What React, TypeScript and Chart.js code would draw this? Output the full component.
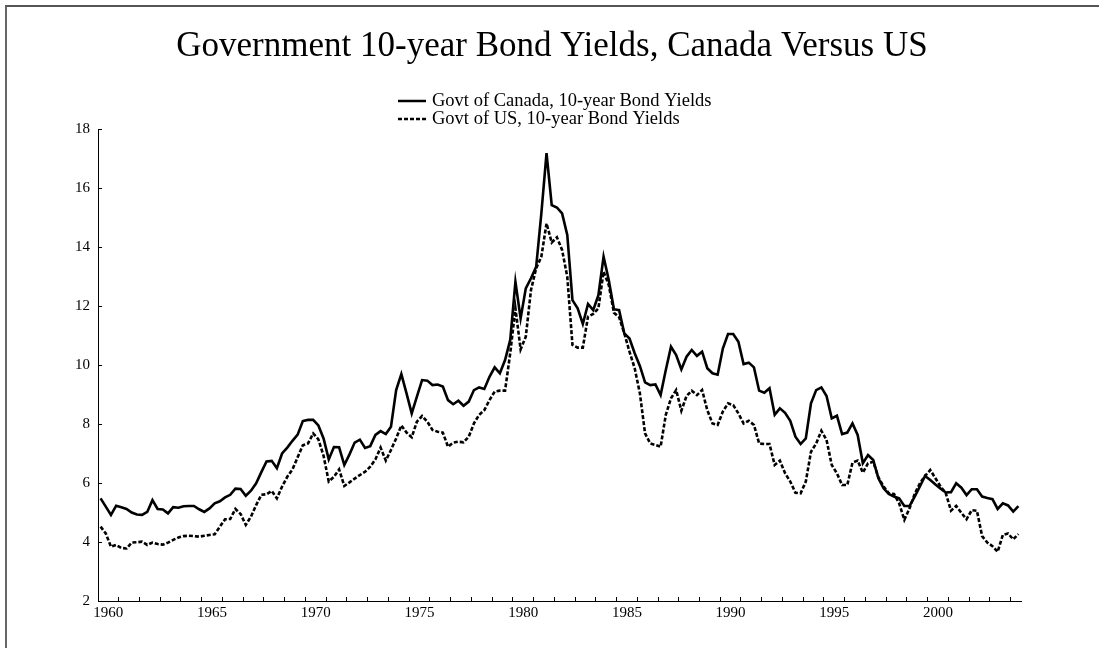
import React, { useEffect, useRef } from "react";
import { Chart, registerables } from "chart.js";

Chart.register(...registerables);

const TITLE = "Government 10-year Bond Yields, Canada Versus US";
const SERIES_NAMES = ["Govt of Canada, 10-year Bond Yields", "Govt of US, 10-year Bond Yields"];

const START_YEAR = 1960;
const END_YEAR = 2004.5;
const QUARTERS_PER_YEAR = 4;

// Quarterly, 1960Q1 .. 2004Q2
const canadaYields = [
  5.48, 5.20, 4.92, 5.23, 5.18, 5.12, 5.00, 4.93, 4.92, 5.02,
  5.42, 5.12, 5.10, 4.97, 5.18, 5.16, 5.21, 5.22, 5.22, 5.11,
  5.02, 5.14, 5.31, 5.38, 5.51, 5.60, 5.81, 5.80, 5.57, 5.74,
  5.99, 6.37, 6.73, 6.75, 6.50, 7.00, 7.20, 7.43, 7.64, 8.10,
  8.14, 8.14, 7.95, 7.51, 6.80, 7.22, 7.21, 6.61, 6.97, 7.37,
  7.47, 7.19, 7.25, 7.63, 7.76, 7.66, 7.91, 9.15, 9.69, 9.04,
  8.36, 8.93, 9.49, 9.47, 9.32, 9.34, 9.27, 8.81, 8.67, 8.79,
  8.62, 8.76, 9.15, 9.24, 9.19, 9.60, 9.92, 9.72, 10.17, 10.85,
  12.82, 11.58, 12.60, 12.94, 13.33, 15.14, 17.18, 15.42, 15.34, 15.14,
  14.41, 12.20, 11.92, 11.39, 12.07, 11.86, 12.37, 13.67, 12.88, 11.89,
  11.86, 11.07, 10.90, 10.40, 9.97, 9.41, 9.32, 9.34, 8.98, 9.83,
  10.62, 10.34, 9.85, 10.28, 10.51, 10.31, 10.45, 9.89, 9.72, 9.67,
  10.56, 11.05, 11.05, 10.79, 10.03, 10.08, 9.92, 9.13, 9.06, 9.21,
  8.31, 8.53, 8.38, 8.11, 7.57, 7.32, 7.51, 8.70, 9.15, 9.24,
  8.95, 8.19, 8.28, 7.66, 7.71, 8.02, 7.63, 6.67, 6.95, 6.78,
  6.16, 5.82, 5.63, 5.54, 5.48, 5.22, 5.22, 5.54, 5.88, 6.24,
  6.10, 5.95, 5.81, 5.68, 5.69, 5.99, 5.84, 5.59, 5.79, 5.79,
  5.54, 5.49, 5.45, 5.12, 5.31, 5.24, 5.03, 5.22,
];

const usYields = [
  4.52, 4.29, 3.84, 3.90, 3.80, 3.78, 3.98, 3.99, 4.01, 3.90,
  3.98, 3.93, 3.91, 3.98, 4.07, 4.15, 4.20, 4.21, 4.20, 4.18,
  4.21, 4.24, 4.26, 4.52, 4.77, 4.78, 5.12, 4.95, 4.58, 4.86,
  5.25, 5.60, 5.62, 5.73, 5.48, 5.88, 6.21, 6.46, 6.87, 7.28,
  7.34, 7.68, 7.48, 6.92, 6.05, 6.21, 6.46, 5.90, 6.02, 6.15,
  6.27, 6.38, 6.55, 6.80, 7.20, 6.76, 7.12, 7.51, 7.95, 7.71,
  7.55, 8.08, 8.27, 8.08, 7.80, 7.74, 7.71, 7.23, 7.37, 7.40,
  7.38, 7.57, 8.02, 8.31, 8.47, 8.81, 9.10, 9.13, 9.13, 10.40,
  11.92, 10.53, 10.96, 12.54, 13.28, 13.67, 14.80, 14.15, 14.33, 13.90,
  12.99, 10.68, 10.59, 10.59, 11.64, 11.73, 11.92, 13.16, 12.71, 11.77,
  11.62, 11.07, 10.45, 9.89, 9.04, 7.68, 7.34, 7.29, 7.23, 8.31,
  8.87, 9.15, 8.45, 8.95, 9.13, 8.98, 9.15, 8.47, 8.02, 7.97,
  8.42, 8.70, 8.64, 8.36, 8.02, 8.11, 7.97, 7.34, 7.32, 7.32,
  6.61, 6.76, 6.33, 6.05, 5.67, 5.65, 6.05, 7.06, 7.34, 7.77,
  7.46, 6.61, 6.33, 5.93, 5.93, 6.69, 6.76, 6.35, 6.67, 6.72,
  6.19, 5.88, 5.65, 5.63, 5.31, 4.75, 5.14, 5.63, 5.99, 6.24,
  6.44, 6.16, 5.88, 5.65, 5.06, 5.22, 4.99, 4.77, 5.08, 5.06,
  4.20, 3.98, 3.86, 3.67, 4.24, 4.29, 4.09, 4.27,
];

const LABEL_YEARS = [1960, 1965, 1970, 1975, 1980, 1985, 1990, 1995, 2000];
const Y_MIN = 2;
const Y_MAX = 18;
const Y_STEP = 2;

// x position of each quarter: centre of the quarter
const quarterTimes = canadaYields.map((_, i) => START_YEAR + (i + 0.5) / QUARTERS_PER_YEAR);

const SERIF = '"Liberation Serif", "Times New Roman", serif';

const legendPlugin = {
  id: "stackedLegend",
  afterDraw(chart: any) {
    const ctx = chart.ctx;
    ctx.save();
    const rows = [101, 119];
    const x0 = 398;
    const x1 = 426;
    const tx = 432;
    chart.data.datasets.forEach((ds: any, i: number) => {
      const y = rows[i];
      ctx.beginPath();
      ctx.setLineDash(ds.borderDash || []);
      ctx.lineWidth = 2.5;
      ctx.strokeStyle = "#000";
      ctx.moveTo(x0, y);
      ctx.lineTo(x1, y);
      ctx.stroke();
      ctx.setLineDash([]);
      ctx.fillStyle = "#000";
      ctx.font = `18.5px ${SERIF}`;
      ctx.textBaseline = "middle";
      ctx.textAlign = "left";
      ctx.fillText(ds.label, tx, y);
    });
    ctx.restore();
  },
};

export default function App() {
  const ref = useRef<HTMLCanvasElement | null>(null);

  useEffect(() => {
    if (!ref.current) return;
    const tickFont = { family: SERIF, size: 15, weight: "normal" as const };
    const axisGrid = {
      display: true,
      drawOnChartArea: false,
      drawTicks: true,
      tickLength: -4,
      color: "#000",
      tickColor: "#000",
      tickWidth: 1,
    };
    const chart = new Chart(ref.current, {
      type: "line",
      data: {
        datasets: [
          {
            label: SERIES_NAMES[0],
            data: canadaYields.map((v, i) => ({ x: quarterTimes[i], y: v })),
            borderColor: "#000",
            borderWidth: 2.6,
            pointRadius: 0,
            tension: 0,
            fill: false,
          },
          {
            label: SERIES_NAMES[1],
            data: usYields.map((v, i) => ({ x: quarterTimes[i], y: v })),
            borderColor: "#000",
            borderWidth: 2.6,
            borderDash: [4, 2],
            pointRadius: 0,
            tension: 0,
            fill: false,
          },
        ],
      },
      options: {
        responsive: false,
        animation: false,
        devicePixelRatio: 1,
        layout: { padding: { left: 5, right: 0, top: 0, bottom: 17 } },
        plugins: {
          legend: { display: false },
          tooltip: { enabled: false },
          title: {
            display: true,
            text: TITLE,
            color: "#000",
            font: { family: SERIF, size: 35, weight: "normal" },
            padding: { top: 26, bottom: 61 },
          },
        },
        scales: {
          x: {
            type: "linear",
            min: START_YEAR,
            max: END_YEAR,
            afterFit: (s: any) => {
              s.height = 30;
            },
            border: { display: true, color: "#000", width: 1 },
            grid: axisGrid,
            ticks: {
              stepSize: 1,
              autoSkip: false,
              maxRotation: 0,
              minRotation: 0,
              includeBounds: false,
              labelOffset: 10.37,
              padding: 7,
              color: "#000",
              font: tickFont,
              callback: (v: any) => (LABEL_YEARS.includes(Number(v)) ? String(v) : ""),
            },
          },
          y: {
            min: Y_MIN,
            max: Y_MAX,
            afterFit: (s: any) => {
              s.width = 93;
            },
            border: { display: true, color: "#000", width: 1 },
            grid: axisGrid,
            ticks: {
              stepSize: Y_STEP,
              padding: 12,
              color: "#000",
              font: tickFont,
            },
          },
          yRightSpace: {
            type: "linear",
            position: "right",
            display: true,
            afterFit: (s: any) => {
              s.width = 78;
            },
            border: { display: false },
            grid: { display: false, drawTicks: false },
            ticks: { display: false },
          },
        },
      },
      plugins: [legendPlugin],
    });
    return () => chart.destroy();
  }, []);

  return (
    <div style={{ position: "absolute", left: 0, top: 0, width: 1099, height: 648, background: "#fff", overflow: "hidden" }}>
      <div
        style={{
          position: "absolute",
          left: 5,
          top: 5,
          width: 1200,
          height: 700,
          borderTop: "2px solid #555",
          borderLeft: "2px solid #666",
        }}
      />
      <canvas ref={ref} width={1099} height={648} style={{ position: "absolute", left: 0, top: 0 }} />
    </div>
  );
}
